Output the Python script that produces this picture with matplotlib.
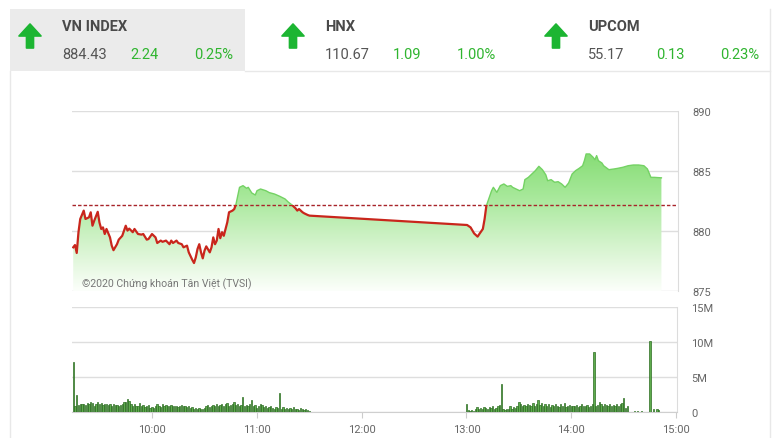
import matplotlib
matplotlib.use("Agg")
import matplotlib.pyplot as plt
import numpy as np
from matplotlib import font_manager
from matplotlib.patches import Rectangle, Polygon
from matplotlib.lines import Line2D
from matplotlib.colors import LinearSegmentedColormap

# ---------------- data ----------------
index_names = ["VN INDEX", "HNX", "UPCOM"]
index_values = ["884.43", "110.67", "55.17"]
index_changes = ["2.24", "1.09", "0.13"]
index_pcts = ["0.25%", "1.00%", "0.23%"]

close_value = 884.43
change_value = 2.24

price_times = [
    "09:15", "09:16", "09:17", "09:18", "09:19", "09:21", "09:22", "09:24", "09:25", "09:26",
    "09:27", "09:29", "09:30", "09:31", "09:32", "09:33", "09:34", "09:36", "09:37", "09:38",
    "09:40", "09:41", "09:43", "09:45", "09:46", "09:47", "09:49", "09:50", "09:52", "09:54",
    "09:55", "09:57", "09:58", "10:00", "10:02", "10:03", "10:05", "10:06", "10:08", "10:10",
    "10:11", "10:12", "10:14", "10:15", "10:17", "10:18", "10:20", "10:21", "10:23", "10:24",
    "10:25", "10:26", "10:27", "10:28", "10:29", "10:30", "10:31", "10:33", "10:34", "10:35",
    "10:36", "10:37", "10:38", "10:39", "10:40", "10:41", "10:43", "10:44", "10:46", "10:47",
    "10:48", "10:49", "10:50", "10:52", "10:54", "10:55", "10:57", "10:59", "11:00", "11:02",
    "11:05", "11:07", "11:10", "11:13", "11:16", "11:18", "11:20", "11:22", "11:23", "11:24",
    "11:26", "11:27", "11:29", "11:30",
    "13:00", "13:02", "13:04", "13:06", "13:07", "13:09", "13:10", "13:11", "13:13", "13:14",
    "13:15", "13:17", "13:18", "13:19", "13:21", "13:23", "13:25", "13:26", "13:28", "13:30",
    "13:32", "13:33", "13:35", "13:37", "13:39", "13:41", "13:43", "13:45", "13:46", "13:48",
    "13:50", "13:52", "13:54", "13:56", "13:58", "14:00", "14:02", "14:04", "14:06", "14:07",
    "14:08", "14:10", "14:12", "14:13", "14:14", "14:15", "14:17", "14:18", "14:21", "14:24",
    "14:26", "14:29", "14:32", "14:35", "14:38", "14:41", "14:43", "14:45", "14:47", "14:51",
]
price_values = [
    878.64, 878.83, 878.17, 879.90, 881.00, 881.70, 881.00, 881.14, 881.56, 880.44,
    880.86, 881.60, 880.70, 880.17, 880.30, 879.75, 880.17, 879.47, 878.78, 878.40,
    878.90, 879.28, 879.60, 880.44, 880.03, 880.20, 879.90, 880.17, 879.75, 879.70,
    879.75, 879.28, 879.33, 879.75, 879.47, 879.00, 879.20, 879.10, 879.20, 878.90,
    879.20, 879.00, 879.20, 879.00, 878.90, 878.64, 878.78, 878.22, 877.60, 877.33,
    877.80, 878.50, 878.90, 878.22, 877.72, 878.36, 878.72, 878.22, 878.64, 879.47,
    878.90, 879.20, 880.17, 879.40, 879.90, 879.60, 880.72, 881.56, 881.70, 881.83,
    882.25, 882.94, 883.64, 883.78, 883.56, 883.64, 883.17, 883.00, 883.36, 883.50,
    883.36, 883.20, 883.08, 882.89, 882.67, 882.39, 882.17, 881.89, 881.70, 881.83,
    881.56, 881.47, 881.33, 881.28,
    880.50, 880.30, 879.80, 879.53, 879.75, 880.17, 881.00, 882.10, 882.94, 883.36,
    883.64, 883.22, 883.50, 883.78, 883.92, 883.72, 883.78, 883.64, 883.50, 883.36,
    883.50, 884.28, 884.47, 884.75, 885.03, 885.39, 885.11, 884.67, 884.19, 884.28,
    884.06, 884.11, 883.92, 883.64, 884.00, 884.75, 885.03, 885.22, 885.44, 885.86,
    886.42, 886.42, 886.14, 885.94, 886.28, 885.86, 885.67, 885.44, 885.11, 885.17,
    885.22, 885.31, 885.44, 885.50, 885.50, 885.44, 885.17, 884.47, 884.47, 884.43,
]

# volume per minute, millions of shares
morning_start = "09:15"
morning_volume = [
    7.1, 0.9, 2.4, 1.0, 1.2, 1.1, 1.2, 1.0, 1.3, 1.1,
    1.4, 1.3, 0.9, 1.2, 1.4, 1.1, 1.3, 1.0, 1.2, 1.1,
    1.0, 1.2, 0.9, 1.1, 1.0, 1.0, 0.9, 1.0, 1.1, 1.4,
    1.5, 1.9, 1.6, 1.2, 0.9, 1.1, 0.8, 0.9, 1.3, 0.8,
    1.0, 0.7, 0.8, 1.0, 0.6, 0.7, 0.6, 0.8, 1.2, 0.9,
    0.7, 1.1, 0.8, 1.0, 0.9, 0.8, 1.0, 0.9, 0.8, 0.9,
    0.7, 0.9, 1.0, 0.8, 0.9, 0.7, 0.8, 0.6, 0.7, 0.5,
    0.6, 0.5, 0.6, 0.4, 0.5, 0.6, 0.8, 1.0, 0.7, 0.9,
    1.0, 0.8, 1.1, 0.9, 1.0, 1.2, 0.9, 1.1, 1.3, 0.8,
    1.0, 1.2, 1.4, 1.0, 1.1, 0.9, 1.0, 2.1, 0.8, 1.0,
    0.9, 1.1, 1.7, 0.8, 1.0, 0.6, 0.9, 1.1, 1.0, 0.7,
    0.8, 0.6, 0.7, 0.9, 0.6, 0.5, 0.7, 0.6, 2.7, 0.5,
    0.7, 0.5, 0.6, 0.4, 0.6, 0.5, 0.7, 0.4, 0.5, 0.3,
    0.6, 0.4, 0.3, 0.4, 0.3, 0.2,
]
afternoon_start = "13:00"
afternoon_volume = [
    1.2, 0.3, 0.2, 0.3, 0.2, 0.4, 0.7, 0.5, 0.6, 0.4,
    0.7, 0.6, 0.5, 0.7, 0.6, 0.8, 0.5, 0.6, 0.9, 1.0,
    4.0, 0.4, 0.3, 0.5, 0.4, 0.9, 0.5, 0.7, 0.6, 0.9,
    1.4, 1.1, 0.9, 1.0, 0.8, 1.2, 1.0, 0.9, 1.3, 0.8,
    1.2, 1.7, 1.0, 1.3, 0.9, 1.1, 0.8, 1.2, 0.7, 1.0,
    0.9, 1.1, 0.8, 0.7, 1.2, 0.8, 1.3, 0.7, 0.9, 1.0,
    0.8, 0.9, 0.8, 1.0, 0.7, 0.9, 1.1, 0.8, 0.9, 1.0,
    0.7, 0.8, 1.1, 8.6, 0.9, 1.0, 1.4, 1.1, 0.9, 1.2,
    1.0, 0.9, 1.1, 0.8, 1.0, 0.9, 1.2, 0.8, 1.1, 1.3,
    2.0, 0.6, 0.9, 0.0, 0.0, 0.0, 0.1, 0.0, 0.1, 0.0,
    0.1, 0.0, 0.0, 0.0, 0.0, 10.1, 0.0, 0.4, 0.0, 0.5, 0.3,
]

time_ticks = ["10:00", "11:00", "12:00", "13:00", "14:00", "15:00"]
price_ticks = [875, 880, 885, 890]
volume_ticks = [0, 5, 10, 15]
volume_tick_labels = ["0", "5M", "10M", "15M"]
copyright_text = "©2020 Chứng khoán Tân Việt (TVSI)"


def to_hours(s):
    h, m = s.split(":")
    return int(h) + int(m) / 60.0


def minute_series(start, n):
    t0 = to_hours(start)
    return np.array([t0 + i / 60.0 for i in range(n)])


# ---------------- fonts ----------------
def has_font(name):
    try:
        font_manager.findfont(font_manager.FontProperties(family=name),
                              fallback_to_default=False)
        return True
    except Exception:
        return False


HEAD_FONT = "Liberation Sans Narrow" if has_font("Liberation Sans Narrow") else "Roboto"
BODY_FONT = ["Roboto", "DejaVu Sans"]

# ---------------- figure ----------------
W, H = 780, 439
fig = plt.figure(figsize=(7.8, 4.39), dpi=100)
fig.patch.set_facecolor("white")


def fx(px):
    return px / W


def fy(py):
    return 1 - py / H


GREEN = "#2fb52f"
ARROW_GREEN = "#1cb532"

# header background for first index
fig.patches.append(Rectangle((fx(10), fy(72)), fx(245) - fx(10), fy(10) - fy(72),
                             transform=fig.transFigure, facecolor="#ebebeb",
                             edgecolor="none", zorder=0))
# panel frame lines
for (xa, ya, xb, yb) in [(245, 72, 770, 72), (10, 72, 10, 439), (770, 10, 770, 439)]:
    fig.add_artist(Line2D([fx(xa), fx(xb)], [fy(ya), fy(yb)], transform=fig.transFigure,
                          color="#e8e8e8", lw=1, zorder=0))


def arrow(cx):
    pts = [(cx, 25), (cx + 11, 37), (cx + 3.5, 37), (cx + 3.5, 49),
           (cx - 3.5, 49), (cx - 3.5, 37), (cx - 11, 37)]
    fig.patches.append(Polygon([(fx(a), fy(b)) for a, b in pts], closed=True,
                               transform=fig.transFigure, facecolor=ARROW_GREEN,
                               edgecolor=ARROW_GREEN, lw=1.2, joinstyle="round", zorder=2))


for i in range(3):
    off = 263 * i
    arrow(30 + off)
    fig.text(fx(62 + off), fy(27), index_names[i], fontsize=10.5, fontweight="bold",
             color="#4a4a4a", family=HEAD_FONT, va="center", ha="left")
    fig.text(fx(62 + off), fy(55), index_values[i], fontsize=10.5, color="#555555",
             family=HEAD_FONT, va="center", ha="left")
    fig.text(fx(130 + off), fy(55), index_changes[i], fontsize=10.5, color=GREEN,
             family=HEAD_FONT, va="center", ha="left")
    fig.text(fx(233 + off), fy(55), index_pcts[i], fontsize=10.5, color=GREEN,
             family=HEAD_FONT, va="center", ha="right")

# ---------------- price chart ----------------
x0, x1 = to_hours("09:14") + 0.3 / 60, 15.008
ref = close_value - change_value

ax1 = fig.add_axes([fx(72), fy(292), fx(678) - fx(72), fy(112) - fy(292)])
px = np.array([to_hours(t) for t in price_times])
pv = np.array(price_values)

cmap = LinearSegmentedColormap.from_list("g", ["#fcfffb", "#d3f3cb", "#a6e899", "#82db70"])
im = ax1.imshow(np.linspace(0, 1, 256).reshape(-1, 1), extent=[x0, x1, 875, 887],
                origin="lower", aspect="auto", cmap=cmap, zorder=1, interpolation="bilinear")
fill = ax1.fill_between(px, pv, 875, facecolor="none", edgecolor="none")
im.set_clip_path(fill.get_paths()[0], transform=ax1.transData)

ax1.axhline(ref, color="#a8242a", ls=(0, (2.5, 1.5)), lw=1.0, zorder=3)

red_line, = ax1.plot(px, pv, color="#c9261c", lw=1.6, zorder=4, solid_joinstyle="round")
red_line.set_clip_path(Rectangle((x0, 870), x1 - x0, ref - 870, transform=ax1.transData))
green_line, = ax1.plot(px, pv, color="#74d264", lw=1.0, zorder=4)
green_line.set_clip_path(Rectangle((x0, ref), x1 - x0, 900 - ref, transform=ax1.transData))

ax1.set_xlim(x0, x1)
ax1.set_ylim(875, 890)
ax1.set_yticks(price_ticks)
ax1.yaxis.tick_right()
ax1.tick_params(axis="y", length=0, pad=10, labelsize=8, labelcolor="#666666")
for lab in ax1.get_yticklabels():
    lab.set_family(BODY_FONT)
ax1.set_xticks([])
ax1.grid(axis="y", color="#dedede", lw=1, zorder=0)
ax1.set_axisbelow(True)
for s in ["left", "top", "bottom"]:
    ax1.spines[s].set_visible(False)
ax1.spines["right"].set_color("#dcdcdc")
ax1.set_facecolor("white")

fig.text(fx(82), fy(284), copyright_text, fontsize=7.6, color="#777777",
         family=BODY_FONT, va="center", ha="left")

# ---------------- volume chart ----------------
ax2 = fig.add_axes([fx(72), fy(413), fx(677) - fx(72), fy(308) - fy(413)])
mt = minute_series(morning_start, len(morning_volume))
at = minute_series(afternoon_start, len(afternoon_volume))
bw = 0.75 / 60
ax2.bar(mt, morning_volume, width=bw, color="#5eab4d", edgecolor="#2c6d22", lw=0.5, zorder=3)
ax2.bar(at, afternoon_volume, width=bw, color="#5eab4d", edgecolor="#2c6d22", lw=0.5, zorder=3)
ax2.set_xlim(x0, x1)
ax2.set_ylim(0, 15)
ax2.set_yticks(volume_ticks)
ax2.set_yticklabels(volume_tick_labels)
ax2.yaxis.tick_right()
ax2.tick_params(axis="y", length=0, pad=10, labelsize=8, labelcolor="#666666")
ax2.set_xticks([to_hours(t) for t in time_ticks])
ax2.set_xticklabels(time_ticks)
ax2.tick_params(axis="x", length=4, color="#cccccc", pad=5, labelsize=8, labelcolor="#666666")
for lab in ax2.get_yticklabels() + ax2.get_xticklabels():
    lab.set_family(BODY_FONT)
ax2.grid(axis="y", color="#dedede", lw=1, zorder=0)
ax2.set_axisbelow(True)
for s in ["left", "top"]:
    ax2.spines[s].set_visible(False)
ax2.spines["right"].set_color("#dcdcdc")
ax2.spines["bottom"].set_color("#cfcfcf")

fig.savefig("out.png", dpi=100, facecolor="white")
